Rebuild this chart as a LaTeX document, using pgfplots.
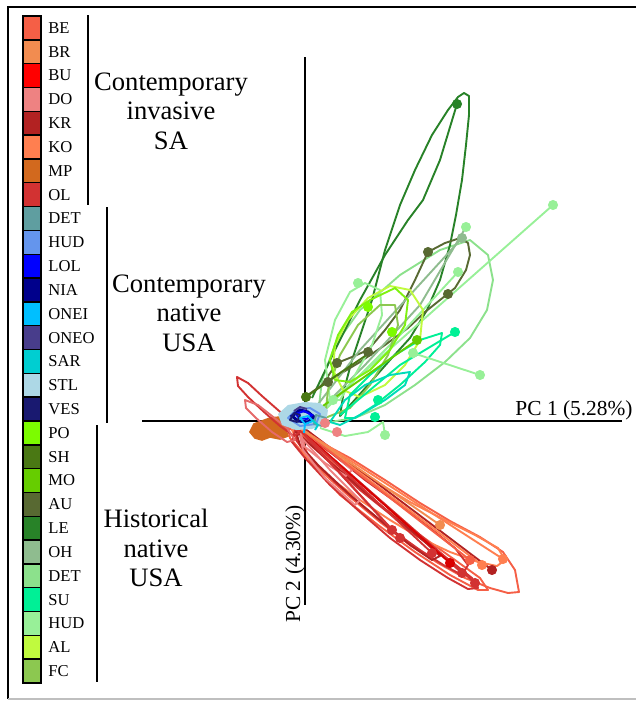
\documentclass[border=0pt]{standalone}
\usepackage{fontspec}
\setmainfont{Liberation Serif}
\usepackage{pgfplots}
\pgfplotsset{compat=1.18}

% SA (contemporary invasive)
\definecolor{BEc}{RGB}{245,95,70}
\definecolor{BRc}{RGB}{242,140,80}
\definecolor{BUc}{RGB}{255,0,0}
\definecolor{DOc}{RGB}{238,130,130}
\definecolor{KRc}{RGB}{178,34,34}
\definecolor{KOc}{RGB}{255,127,80}
\definecolor{MPc}{RGB}{210,105,30}
\definecolor{OLc}{RGB}{210,50,50}
% USA contemporary
\definecolor{DETb}{RGB}{95,158,160}
\definecolor{HUDb}{RGB}{100,149,237}
\definecolor{LOLc}{RGB}{0,0,255}
\definecolor{NIAc}{RGB}{0,0,139}
\definecolor{ONEIc}{RGB}{0,191,255}
\definecolor{ONEOc}{RGB}{72,61,139}
\definecolor{SARc}{RGB}{0,206,209}
\definecolor{STLc}{RGB}{173,216,230}
\definecolor{VESc}{RGB}{25,25,112}
% USA historical
\definecolor{POc}{RGB}{124,252,0}
\definecolor{SHc}{RGB}{74,120,20}
\definecolor{MOc}{RGB}{102,205,0}
\definecolor{AUc}{RGB}{88,105,50}
\definecolor{LEc}{RGB}{40,130,40}
\definecolor{OHc}{RGB}{143,188,143}
\definecolor{DETg}{RGB}{140,225,140}
\definecolor{SUc}{RGB}{0,240,150}
\definecolor{HUDg}{RGB}{152,240,152}
\definecolor{ALc}{RGB}{192,250,62}
\definecolor{FCc}{RGB}{140,200,80}

\tikzset{
  tr/.style={line width=0.95pt, line join=round},
  mk/.style={only marks, mark=*, mark size=2.3pt},
}
\newcommand{\lbl}{\fontsize{8.3}{10}\selectfont}
\newcommand{\grp}{\fontsize{13.3}{14.8}\selectfont}
\newcommand{\swatch}[3]{\addplot[fill=#1, draw=black, line width=0.7pt] coordinates {(23,#2) (41,#2) (41,#3) (23,#3)} -- cycle;}

\begin{document}
\begin{tikzpicture}
\begin{axis}[
    scale only axis,
    width=318pt, height=351pt,
    xmin=0, xmax=636, ymin=0, ymax=702,
    y dir=reverse,
    hide axis,
    clip=false,
]
\addplot[draw=none] coordinates {(0,0) (636,702)};

% frame
\addplot[black, line width=1pt] coordinates {(636,7) (8,7) (8,699)};
\addplot[gray!50, line width=0.6pt] coordinates {(8,699) (636,699)};

% PCA axes
\addplot[black, line width=0.8pt] coordinates {(305,57) (305,605)};
\addplot[black, line width=0.8pt] coordinates {(142,421) (622,421)};

% MP blob
\addplot[fill=MPc, draw=MPc, line width=0.8pt] coordinates {(250,432) (254,424) (262,421) (270,418) (280,417) (288,420) (291,426) (286,431) (288,436) (280,439) (270,437) (262,440) (255,438)} -- cycle;

% ---- contemporary invasive SA (reds) ----
\addplot[BEc,tr] coordinates {(288,428) (320,442) (350,458) (385,480) (420,503) (450,521) (480,537) (503,552) (515,570) (519,592) (508,593) (490,588) (465,578) (438,563) (410,545) (380,522) (350,497) (322,472) (302,452) (290,438)} -- cycle;
\addplot[BEc,tr] coordinates {(300,432) (340,470) (380,505) (420,535) (455,560) (480,578) (488,590) (478,590) (450,575) (415,552) (378,525) (340,495) (310,462)} -- cycle;
\addplot[KOc,tr] coordinates {(292,430) (330,452) (370,478) (410,502) (445,520) (475,535) (498,548) (505,560) (497,566) (478,562) (450,552) (420,538) (390,520) (360,500) (330,478) (305,455)} -- cycle;
\addplot[OLc,tr] coordinates {(295,430) (325,458) (360,490) (395,518) (425,542) (452,562) (472,578) (478,588) (468,589) (448,578) (420,560) (390,538) (360,512) (330,485) (305,458) (292,442)} -- cycle;
\addplot[OLc,tr] coordinates {(298,428) (330,452) (365,480) (400,505) (430,528) (455,548) (468,565) (462,575) (445,566) (420,550) (392,530) (365,508) (335,482) (310,458) (296,440)} -- cycle;
\addplot[KRc,tr] coordinates {(296,432) (330,462) (365,492) (398,520) (425,542) (440,556) (432,560) (410,545) (380,520) (350,495) (318,465) (300,445)} -- cycle;
\addplot[DOc,tr] coordinates {(300,430) (330,450) (352,470) (346,476) (325,463) (304,446)} -- cycle;
\addplot[DOc,tr] coordinates {(300,436) (330,470) (360,500) (355,505) (325,478) (303,450)} -- cycle;
\addplot[OLc,tr] coordinates {(237,377) (248,383) (262,396) (278,410) (292,422) (300,432) (294,436) (280,426) (264,412) (248,397) (238,386)} -- cycle;
\addplot[DOc!70!OLc,tr] coordinates {(245,400) (258,405) (272,416) (287,428) (295,440) (287,442) (272,432) (256,418) (246,408)} -- cycle;
\addplot[KRc,tr] coordinates {(300,425) (492,570)};
\addplot[OLc,tr] coordinates {(298,428) (475,583)};
\addplot[OLc,tr] coordinates {(298,428) (462,573)};
\addplot[BUc!85!black,tr] coordinates {(298,428) (450,563)};
\addplot[OLc,tr] coordinates {(300,430) (432,553)};
\addplot[OLc,tr] coordinates {(300,430) (400,538)};
\addplot[OLc,tr] coordinates {(300,430) (392,530)};
\addplot[KOc,tr] coordinates {(300,428) (503,559)};
\addplot[KOc,tr] coordinates {(300,428) (482,565)};
\addplot[BEc,tr] coordinates {(300,428) (470,560)};
\addplot[BRc,tr] coordinates {(300,428) (440,525)};
\addplot[mk,KRc] coordinates {(492,570)};
\addplot[mk,OLc] coordinates {(475,583) (462,573) (432,553) (400,538) (392,530)};
\addplot[mk,BUc!85!black] coordinates {(450,563)};
\addplot[mk,KOc] coordinates {(503,559) (482,565)};
\addplot[mk,BEc] coordinates {(470,560)};
\addplot[mk,BRc] coordinates {(440,525)};
\addplot[mk,DOc] coordinates {(325,423) (337,432)};

% ---- historical native USA (greens) ----
\addplot[DETg,tr] coordinates {(318,415) (322,380) (335,345) (360,310) (400,275) (440,250) (470,240) (488,255) (493,280) (487,310) (470,338) (445,362) (415,385) (385,405) (355,418) (330,422)} -- cycle;
\addplot[LEc,tr] coordinates {(340,416) (344,390) (352,360) (362,330) (372,300) (385,250) (400,205) (415,170) (432,135) (448,110) (458,97) (464,93) (469,96) (469,115) (466,145) (462,180) (456,215) (450,245) (440,280) (427,310) (410,338) (390,360) (368,385) (352,403)} -- cycle;
\addplot[LEc,tr] coordinates {(312,398) (335,350) (360,300) (385,255) (408,220) (423,200) (440,160) (457,104)};
\addplot[AUc,tr] coordinates {(305,397) (322,385) (337,363) (352,357) (368,350) (385,330) (400,310) (415,280) (428,252) (445,243) (460,238) (468,243) (470,255) (466,270) (455,288) (440,300) (425,312) (408,328) (385,345) (360,362) (335,377) (318,388)} -- cycle;
\addplot[OHc,tr] coordinates {(312,412) (360,350) (410,295) (462,238)};
\addplot[OHc,tr] coordinates {(315,415) (365,365) (420,305) (466,227)};
\addplot[HUDg,tr] coordinates {(312,418) (553,205)};
\addplot[HUDg,tr] coordinates {(320,415) (400,335) (458,272)};
\addplot[HUDg,tr] coordinates {(330,400) (325,360) (335,320) (350,292) (365,283) (380,290) (382,315) (372,345) (355,375) (340,400)} -- cycle;
\addplot[FCc,tr] coordinates {(325,418) (328,390) (340,355) (358,325) (380,305) (395,305) (398,325) (388,355) (370,385) (350,408)} -- cycle;
\addplot[ALc,tr] coordinates {(390,286) (410,290) (423,310) (420,340) (405,365) (385,385) (360,397) (343,390) (333,370) (335,345) (348,320) (368,298)} -- cycle;
\addplot[POc!80!FCc,tr] coordinates {(370,300) (395,288) (408,300) (405,325) (390,350) (370,370) (350,382) (335,380) (330,360) (338,335) (352,312)} -- cycle;
\addplot[SUc,tr] coordinates {(345,418) (350,395) (370,375) (395,355) (420,340) (442,333) (440,345) (425,362) (400,385) (375,405) (355,418)} -- cycle;
\addplot[SUc,tr] coordinates {(340,415) (400,365) (455,332)};
\addplot[SARc!60!SUc,tr] coordinates {(330,422) (345,400) (365,385) (390,375) (410,372) (405,385) (385,400) (360,415) (340,425)} -- cycle;
\addplot[MOc,tr] coordinates {(310,415) (360,380) (417,340)};
\addplot[SHc,tr] coordinates {(306,397) (337,375) (368,354)};
\addplot[HUDg,tr] coordinates {(413,353) (480,375)};
\addplot[HUDg,tr] coordinates {(320,428) (345,436) (368,432) (383,422) (385,435)};
\addplot[mk,LEc] coordinates {(457,104)};
\addplot[mk,AUc] coordinates {(428,252) (448,294) (368,352) (337,363) (328,382)};
\addplot[mk,OHc] coordinates {(462,238)};
\addplot[mk,HUDg] coordinates {(466,227) (553,205) (458,272) (358,283) (480,375) (385,435) (333,400) (413,353)};
\addplot[mk,SUc] coordinates {(455,332) (375,417) (378,400)};
\addplot[mk,MOc] coordinates {(417,340)};
\addplot[mk,POc] coordinates {(392,332) (368,307)};
\addplot[mk,SHc] coordinates {(306,397)};

% ---- contemporary native USA (blues) ----
\addplot[fill=STLc, draw=none] coordinates {(278,414) (288,405) (305,402) (320,403) (328,410) (326,423) (312,429) (296,430) (282,425)} -- cycle;
\addplot[HUDb,tr] coordinates {(288,418) (296,410) (310,408) (320,414) (316,424) (300,426)} -- cycle;
\addplot[NIAc,line width=1.5pt] coordinates {(292,416) (300,410) (308,412) (314,417) (308,422) (298,421)} -- cycle;
\addplot[LOLc,line width=1pt] coordinates {(296,414) (304,411) (312,415) (307,419) (299,418)} -- cycle;
\addplot[VESc,tr] coordinates {(290,420) (294,413) (300,415) (297,422)} -- cycle;
\addplot[ONEOc,tr] coordinates {(294,411) (300,407) (307,409)};
\addplot[ONEIc,tr] coordinates {(300,418) (308,416) (313,421) (305,424)} -- cycle;
\addplot[DETb,tr] coordinates {(316,415) (326,418) (322,426) (314,424)} -- cycle;
\addplot[SARc,tr] coordinates {(312,420) (318,425) (315,430)};
\addplot[ONEIc,tr] coordinates {(305,424) (304,433)};

% ---- legend swatches ----
\swatch{BEc}{16}{39.8}
\swatch{BRc}{39.8}{63.6}
\swatch{BUc}{63.6}{87.5}
\swatch{DOc}{87.5}{111.3}
\swatch{KRc}{111.3}{135.1}
\swatch{KOc}{135.1}{158.9}
\swatch{MPc}{158.9}{182.7}
\swatch{OLc}{182.7}{206.6}
\swatch{DETb}{206.6}{230.4}
\swatch{HUDb}{230.4}{254.2}
\swatch{LOLc}{254.2}{278.0}
\swatch{NIAc}{278.0}{301.8}
\swatch{ONEIc}{301.8}{325.7}
\swatch{ONEOc}{325.7}{349.5}
\swatch{SARc}{349.5}{373.3}
\swatch{STLc}{373.3}{397.1}
\swatch{VESc}{397.1}{420.9}
\swatch{POc}{420.9}{444.8}
\swatch{SHc}{444.8}{468.6}
\swatch{MOc}{468.6}{492.4}
\swatch{AUc}{492.4}{516.2}
\swatch{LEc}{516.2}{540.0}
\swatch{OHc}{540.0}{563.9}
\swatch{DETg}{563.9}{587.7}
\swatch{SUc}{587.7}{611.5}
\swatch{HUDg}{611.5}{635.3}
\swatch{ALc}{635.3}{659.1}
\swatch{FCc}{659.1}{683}

% group brackets
\addplot[black, line width=0.8pt] coordinates {(88,15) (88,205)};
\addplot[black, line width=0.8pt] coordinates {(107,207) (107,423)};
\addplot[black, line width=0.8pt] coordinates {(97,425) (97,682)};

% legend labels
\begin{scope}[every node/.style={anchor=west, font=\lbl, inner sep=0pt}]
\node at (axis cs:48,27.9) {BE};
\node at (axis cs:48,51.7) {BR};
\node at (axis cs:48,75.5) {BU};
\node at (axis cs:48,99.4) {DO};
\node at (axis cs:48,123.2) {KR};
\node at (axis cs:48,147.0) {KO};
\node at (axis cs:48,170.8) {MP};
\node at (axis cs:48,194.6) {OL};
\node at (axis cs:48,218.5) {DET};
\node at (axis cs:48,242.3) {HUD};
\node at (axis cs:48,266.1) {LOL};
\node at (axis cs:48,289.9) {NIA};
\node at (axis cs:48,313.7) {ONEI};
\node at (axis cs:48,337.6) {ONEO};
\node at (axis cs:48,361.4) {SAR};
\node at (axis cs:48,385.2) {STL};
\node at (axis cs:48,409.0) {VES};
\node at (axis cs:48,432.8) {PO};
\node at (axis cs:48,456.7) {SH};
\node at (axis cs:48,480.5) {MO};
\node at (axis cs:48,504.3) {AU};
\node at (axis cs:48,528.1) {LE};
\node at (axis cs:48,551.9) {OH};
\node at (axis cs:48,575.8) {DET};
\node at (axis cs:48,599.6) {SU};
\node at (axis cs:48,623.4) {HUD};
\node at (axis cs:48,647.2) {AL};
\node at (axis cs:48,671.0) {FC};
\end{scope}

% group titles
\node[align=center, font=\grp] at (axis cs:171,111) {Contemporary\\invasive\\SA};
\node[align=center, font=\grp] at (axis cs:189,313) {Contemporary\\native\\USA};
\node[align=center, font=\grp] at (axis cs:156,548) {Historical\\native\\USA};

% axis titles
\node[anchor=base east, font=\fontsize{10.7}{12}\selectfont, inner sep=0pt] at (axis cs:633,415) {PC 1 (5.28\%)};
\node[rotate=90, anchor=base, font=\fontsize{10.7}{12}\selectfont, inner sep=0pt] at (axis cs:300,564) {PC 2 (4.30\%)};
\end{axis}
\end{tikzpicture}
\end{document}
